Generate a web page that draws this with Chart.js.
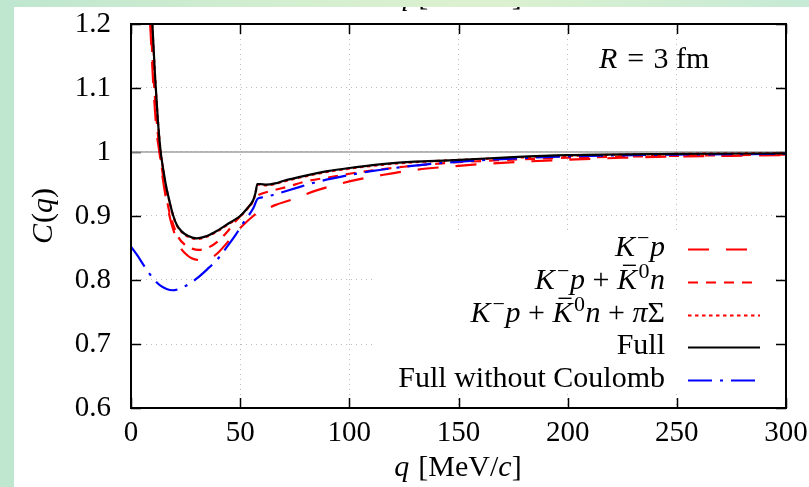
<!DOCTYPE html>
<html><head><meta charset="utf-8">
<script src="https://cdn.jsdelivr.net/npm/chart.js@4"></script>
<style>
html,body{margin:0;padding:0;width:809px;height:487px;overflow:hidden;background:#fff;}
#stripTop{position:absolute;left:0;top:0;width:809px;height:7px;background:linear-gradient(90deg,#bee6cf 0%,#d3eed0 35%,#dcf1cf 60%,#c6ead6 100%);z-index:2}
#stripLeft{position:absolute;left:0;top:0;width:14px;height:487px;background:#bfe7d0;z-index:3}
canvas{position:absolute;left:0;top:0;}
</style></head><body>
<div id="stripTop"></div><div id="stripLeft"></div>
<canvas id="c" width="809" height="487"></canvas>
<script>
// ---------------- data ----------------
const qTicks = [0, 50, 100, 150, 200, 250, 300];
const cTicks = [0.6, 0.7, 0.8, 0.9, 1.0, 1.1, 1.2];

// K^- p  (long dash)
const qKp = [8.8, 10.3, 11.8, 13, 14.5, 16, 18, 20, 22.4, 25, 27.8, 32, 36, 40, 44, 48, 52, 56, 58, 62, 66, 74, 85, 100, 115, 130, 145, 160, 180, 200, 225, 250, 275, 300];
const cKp = [1.2, 1.1, 1.03, 1.0, 0.96, 0.928, 0.895, 0.872, 0.852, 0.841, 0.834, 0.831, 0.833, 0.843, 0.858, 0.874, 0.888, 0.900, 0.905, 0.911, 0.917, 0.926, 0.940, 0.954, 0.964, 0.972, 0.977, 0.981, 0.985, 0.988, 0.991, 0.993, 0.994, 0.995];

// K^- p + Kbar0 n  (medium dash)
const qKpKn = [9.0, 10.5, 12, 13.2, 15, 17, 19, 21.5, 24.7, 28, 31, 35, 40, 44, 48, 52, 55, 57.6, 60, 64, 72, 80, 90, 100, 110, 125, 145, 175, 200, 250, 300];
const cKpKn = [1.2, 1.11, 1.04, 1.0, 0.955, 0.915, 0.89, 0.868, 0.855, 0.849, 0.847, 0.850, 0.861, 0.875, 0.892, 0.907, 0.919, 0.931, 0.935, 0.939, 0.946, 0.954, 0.960, 0.966, 0.971, 0.977, 0.983, 0.988, 0.991, 0.994, 0.996];

// K^- p + Kbar0 n + pi Sigma  (dotted, nearly on top of Full)
const qKpKnPS = [9.7, 11, 12.3, 13.6, 15, 16, 17.5, 19.4, 21, 23.2, 26, 30, 35, 40, 45, 50, 53, 56, 57, 57.9, 59, 62, 66, 70, 80, 90, 100, 115, 130, 146, 175, 200, 250, 300];
const cKpKnPS = [1.2, 1.12, 1.05, 1.0, 0.967, 0.947, 0.924, 0.899, 0.885, 0.875, 0.868, 0.864, 0.868, 0.877, 0.888, 0.899, 0.910, 0.924, 0.935, 0.949, 0.949, 0.948, 0.950, 0.954, 0.962, 0.969, 0.974, 0.980, 0.984, 0.987, 0.991, 0.994, 0.997, 0.998];

// Full  (solid black)
const qFull = [9.8, 11, 12.3, 13.6, 15, 16, 17.5, 19.4, 21, 23.2, 26, 30, 35, 40, 45, 50, 53, 56, 57, 57.9, 59, 62, 66, 70, 80, 90, 100, 115, 130, 146, 175, 200, 250, 300];
const cFull = [1.2, 1.12, 1.05, 1.0, 0.968, 0.948, 0.925, 0.900, 0.886, 0.876, 0.869, 0.865, 0.869, 0.878, 0.889, 0.900, 0.911, 0.925, 0.936, 0.950, 0.950, 0.949, 0.951, 0.955, 0.963, 0.970, 0.975, 0.981, 0.985, 0.987, 0.992, 0.995, 0.997, 0.998];

// Full without Coulomb  (blue dash-dot)
const qNoC = [0, 3, 6, 10, 14, 19, 24, 30, 35, 40, 44, 48, 52, 56, 58, 60, 64, 73, 85, 100, 110, 123, 143, 170, 200, 250, 300];
const cNoC = [0.852, 0.838, 0.822, 0.803, 0.790, 0.784, 0.789, 0.802, 0.817, 0.834, 0.852, 0.871, 0.892, 0.912, 0.927, 0.929, 0.932, 0.941, 0.953, 0.964, 0.970, 0.976, 0.983, 0.989, 0.993, 0.996, 0.997];

// reference line C = 1
const qRef = [0, 300];
const cRef = [1, 1];

// ---------------- helpers ----------------
const FONT = '"Liberation Serif", "Times New Roman", serif';
const FS = 29;   // tick labels
const LFS = 30;  // legend / titles
const pts = (xs, ys) => xs.map((x, i) => ({x, y: ys[i]}));

const STY = {
  kp:   {color: '#ff0000', width: 2.2, dash: [21, 17]},
  kpkn: {color: '#ff0000', width: 2.2, dash: [10, 8]},
  kpknps: {color: '#ff0000', width: 2.2, dash: [3.5, 3.5]},
  full: {color: '#000000', width: 2.2, dash: []},
  noc:  {color: '#0000ff', width: 2.2, dash: [24, 8, 3, 8]}
};

function ds(label, xs, ys, st, order) {
  return {label, data: pts(xs, ys), borderColor: st.color, borderWidth: st.width,
    borderDash: st.dash, pointRadius: 0, fill: false, cubicInterpolationMode: 'monotone', order};
}

function segFont(s, size) {
  return (s.i ? 'italic ' : '') + (s.sup ? Math.round(size * 0.72) : size) + 'px ' + FONT;
}
function richWidth(ctx, segs, size) {
  let w = 0;
  for (const s of segs) { ctx.font = segFont(s, size); w += ctx.measureText(s.t).width + (s.k || 0) * size; }
  return w;
}
function drawRich(ctx, segs, x, y, size, align) {
  const w = richWidth(ctx, segs, size);
  let cx = align === 'right' ? x - w : align === 'center' ? x - w / 2 : x;
  ctx.textBaseline = 'alphabetic';
  ctx.textAlign = 'left';
  ctx.fillStyle = '#000';
  for (const s of segs) {
    ctx.font = segFont(s, size);
    const sw = ctx.measureText(s.t).width;
    const yy = s.sup ? y - size * 0.36 : y;
    ctx.fillText(s.t, cx, yy);
    if (s.bar) {
      ctx.save(); ctx.strokeStyle = '#000'; ctx.lineWidth = 1.4;
      ctx.beginPath();
      ctx.moveTo(cx + sw * 0.30, y - size * 0.79);
      ctx.lineTo(cx + sw * 0.95, y - size * 0.79);
      ctx.stroke(); ctx.restore();
    }
    cx += sw + (s.k || 0) * size;
  }
}

const legendEntries = [
  {segs: [{t: 'K', i: 1, k: 0.07}, {t: '−', sup: 1, k: 0.02}, {t: 'p', i: 1}], st: STY.kp},
  {segs: [{t: 'K', i: 1, k: 0.07}, {t: '−', sup: 1, k: 0.02}, {t: 'p', i: 1}, {t: ' + '}, {t: 'K', i: 1, bar: 1, k: 0.05}, {t: '0', sup: 1, k: 0.02}, {t: 'n', i: 1}], st: STY.kpkn},
  {segs: [{t: 'K', i: 1, k: 0.07}, {t: '−', sup: 1, k: 0.02}, {t: 'p', i: 1}, {t: ' + '}, {t: 'K', i: 1, bar: 1, k: 0.05}, {t: '0', sup: 1, k: 0.02}, {t: 'n', i: 1}, {t: ' + '}, {t: 'π', i: 1}, {t: 'Σ'}], st: STY.kpknps},
  {segs: [{t: 'Full'}], st: STY.full},
  {segs: [{t: 'Full without Coulomb'}], st: STY.noc}
];
const xTitle = [{t: 'q', i: 1, k: 0.05}, {t: ' [MeV/'}, {t: 'c', i: 1}, {t: ']'}];
const yTitle = [{t: 'C', i: 1, k: 0.03}, {t: '('}, {t: 'q', i: 1}, {t: ')'}];
const rLabel = [{t: 'R', i: 1, k: 0.08}, {t: ' = ', k: 0.06}, {t: '3 fm'}];

const framePlugin = {
  id: 'frame',
  beforeDatasetsDraw(chart) {
    const {ctx, chartArea: a, scales} = chart;
    ctx.save();
    ctx.strokeStyle = '#000';
    ctx.lineWidth = 1.5;
    ctx.beginPath();
    for (const q of qTicks) {
      const x = Math.round(scales.x.getPixelForValue(q)) + 0.5;
      ctx.moveTo(x, a.bottom); ctx.lineTo(x, a.bottom - 10);
      ctx.moveTo(x, a.top); ctx.lineTo(x, a.top + 10);
    }
    for (const c of cTicks) {
      const y = Math.round(scales.y.getPixelForValue(c)) + 0.5;
      ctx.moveTo(a.left, y); ctx.lineTo(a.left + 10, y);
      ctx.moveTo(a.right, y); ctx.lineTo(a.right - 10, y);
    }
    ctx.stroke();
    ctx.lineWidth = 2;
    ctx.strokeRect(a.left, a.top, a.right - a.left, a.bottom - a.top);
    ctx.restore();
  },
  afterDatasetsDraw(chart) {
    const {ctx, chartArea: a} = chart;
    ctx.save();
    ctx.strokeStyle = '#000'; ctx.lineWidth = 2;
    ctx.strokeRect(a.left, a.top, a.right - a.left, a.bottom - a.top);
    // legend (opaque box)
    ctx.fillStyle = '#fff';
    ctx.fillRect(373, 233, 399, 160);
    const y0 = 249, dy = 32.8;
    legendEntries.forEach((e, i) => {
      const ly = Math.round(y0 + i * dy) + 0.5;
      drawRich(ctx, e.segs, 665, ly + 6.5, LFS, 'right');
      ctx.save();
      ctx.strokeStyle = e.st.color; ctx.lineWidth = e.st.width; ctx.setLineDash(e.st.dash);
      ctx.beginPath(); ctx.moveTo(688, ly); ctx.lineTo(760, ly); ctx.stroke();
      ctx.restore();
    });
    drawRich(ctx, rLabel, 599, 68, LFS, 'left');
    drawRich(ctx, xTitle, 458, 476, LFS, 'center');
    drawRich(ctx, xTitle, 458, 5, LFS, 'center');
    ctx.save();
    ctx.translate(52, 216);
    ctx.rotate(-Math.PI / 2);
    drawRich(ctx, yTitle, 0, 0, LFS, 'center');
    ctx.restore();
    ctx.restore();
  }
};

new Chart(document.getElementById('c'), {
  type: 'line',
  data: {
    datasets: [
      {label: 'ref', data: pts(qRef, cRef), borderColor: '#a0a0a0', borderWidth: 1.5, pointRadius: 0, order: 10},
      ds('K−p', qKp, cKp, STY.kp, 5),
      ds('K−p + K̄0n', qKpKn, cKpKn, STY.kpkn, 4),
      ds('K−p + K̄0n + πΣ', qKpKnPS, cKpKnPS, STY.kpknps, 3),
      ds('Full without Coulomb', qNoC, cNoC, STY.noc, 2),
      ds('Full', qFull, cFull, STY.full, 1)
    ]
  },
  options: {
    responsive: false, animation: false, devicePixelRatio: 1,
    layout: {padding: {left: 0, right: 23, top: 24, bottom: 0}},
    plugins: {legend: {display: false}, tooltip: {enabled: false}},
    scales: {
      x: {
        type: 'linear', min: 0, max: 300,
        afterFit(s) { s.height = 79; s.paddingLeft = 0; s.paddingRight = 0; },
        afterBuildTicks(s) { s.ticks = qTicks.map(v => ({value: v})); },
        ticks: {padding: 8, color: '#000', font: {family: FONT, size: FS}, maxRotation: 0, autoSkip: false,
          callback: v => String(v)},
        grid: {color: '#bcbcbc', lineWidth: 1, drawTicks: false},
        border: {display: false, dash: [1, 4]}
      },
      y: {
        type: 'linear', min: 0.6, max: 1.2,
        afterFit(s) { s.width = 131; s.paddingTop = 0; s.paddingBottom = 0; },
        afterBuildTicks(s) { s.ticks = cTicks.map(v => ({value: v})); },
        ticks: {padding: 20, color: '#000', font: {family: FONT, size: FS}, autoSkip: false,
          callback: v => String(Math.round(v * 10) / 10)},
        grid: {color: '#bcbcbc', lineWidth: 1, drawTicks: false},
        border: {display: false, dash: [1, 4]}
      }
    }
  },
  plugins: [framePlugin]
});
</script>
</body></html>
